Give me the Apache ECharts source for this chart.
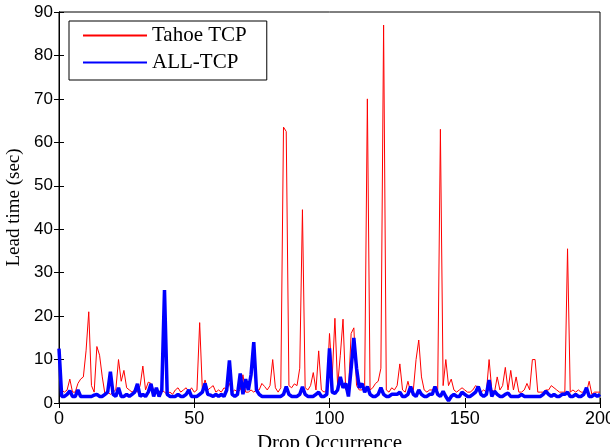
<!DOCTYPE html>
<html>
<head>
<meta charset="utf-8">
<script src="https://cdn.jsdelivr.net/npm/echarts@6/dist/echarts.min.js"></script>
<style>
html,body{margin:0;padding:0;background:#fff;}
#chart{width:610px;height:447px;}
</style>
</head>
<body>
<div id="chart"></div>
<script>
// Tick values
const xTicks = [0, 50, 100, 150, 200];
const yTicks = [0, 10, 20, 30, 40, 50, 60, 70, 80, 90];

// Series names
const seriesNames = ["Tahoe TCP", "ALL-TCP"];

// Lead time (sec) per drop occurrence, index 0..200
const tahoeTCP = [
12.5,3,2.5,3,5.5,2.5,2.5,4.5,5.5,6,
12,21,4,2.5,13,11,6,2,2.5,2,
2.5,3,10,5,7.5,3.5,3,2.5,3,2.5,
4,8.5,3,4.8,4.5,3,2.5,2.5,3,2.5,
2,2.5,2,3,3.5,2.5,3,3.5,2.5,3.5,
2.5,3,18.5,3,5.3,3,3.5,4,2.5,3,
2.5,3.5,3,4.5,2.5,3,2.5,3,6.5,2.5,
2.5,3,2.5,3,3,4.5,3.8,3,4,10,
3.5,2.5,3.5,63.5,62.5,4,3.5,4.4,4,8,
44.5,3.5,3,4,7,3,12,3,2.5,3,
16,6,19.5,4,11,19.3,3,2.5,16,17.3,
4,3,3,4,70,3,3.5,4.5,5,8,
87,3,2.5,3.5,3,4,9,3,2.5,5,
2.5,3,10,14.5,6,3,2.5,3,3,3,
3,63,4,10,4,5.5,3,2.5,3,3.5,
3,2.5,2.5,3,4,3.5,2.5,3,2.5,10,
3,2.5,6,3,4,8.2,3,7.5,3,6,
2.5,2.5,3,4.5,3,10,10,2.5,2.5,2.5,
3,3,4,3.5,3,2.5,2.5,2.5,35.5,2.5,
3,2.5,3,2.5,2.5,2.5,5,2,2.5,2.5,
2.5
];

const allTCP = [
12.5,1.5,1.5,2,2.8,1.5,1.5,3,1.5,1.5,
1.5,1.5,1.5,1.8,2,1.5,1.5,2,2.5,7.2,
2,1.5,3.5,1.5,1.5,2,1.5,2,2.5,4.4,
1.5,2,1.5,2.5,4.4,1.5,3.5,1.5,3,26,
2,1.5,1.5,1.5,2,1.5,1.5,2,3,1.5,
1.5,1.5,2,2.5,4.5,2,1.8,1.5,2,1.5,
2,1.5,3,9.8,2,1.5,2,6.8,2,5.5,
3,6.5,14,3,2,1.5,1.5,1.5,1.5,1.5,
1.5,1.5,1.5,2,3.8,2,1.5,1.5,1.5,2,
3.7,2,1.5,1.5,1.5,2,2.5,1.5,1.5,2,
12.6,2.5,2.2,3,6,3.5,4.5,1.5,8,15,
8,3.5,4.5,2.5,3.8,2,1.5,1.5,2,3.5,
2,1.5,1.5,2,2,2,2.5,1.5,1.5,2,
3.8,2,1.5,3,2,1.5,1.5,2,2,3.8,
2,1.5,2.7,1.5,0.5,1.5,2,1.5,1.5,2.5,
2,1.5,1.5,2,2.5,3.8,2,1.5,2,5.3,
1.5,2.7,2,1.5,1.5,2,2.3,1.5,1.5,1.5,
1.5,2,1.5,1.5,1.5,1.5,1.5,1.5,1.5,2,
2.7,2,1.5,2,1.5,1.5,2,2,2.5,1.5,
1.5,2,1.5,1.5,2,3.5,1.5,1.5,2,1.5,
2
];

const toPairs = arr => arr.map((v, i) => [i, v]);

const chart = echarts.init(document.getElementById('chart'), null, {renderer: 'canvas'});

const xMin = xTicks[0], xMax = xTicks[xTicks.length - 1], xInt = xTicks[1] - xTicks[0];
const yMin = yTicks[0], yMax = yTicks[yTicks.length - 1], yInt = yTicks[1] - yTicks[0];

const tickStyle = {inside: true, length: 5, lineStyle: {color: '#000', width: 1}};
const lineStyleAxis = {show: true, lineStyle: {color: '#000', width: 1}};

chart.setOption({
  animation: false,
  backgroundColor: '#fff',
  grid: {left: 59, right: 10, top: 12, bottom: 44, containLabel: false, outerBoundsMode: 'none',
         show: true, borderColor: '#000', borderWidth: 1, backgroundColor: 'transparent'},
  legend: {
    orient: 'vertical',
    left: 69, top: 21,
    data: seriesNames,
    borderColor: '#000', borderWidth: 1,
    backgroundColor: '#fff',
    padding: [4, 20, 7, 13],
    itemWidth: 64, itemHeight: 14, itemGap: 6,
    itemStyle: {opacity: 0, borderWidth: 0},
    textStyle: {fontFamily: 'Liberation Serif', fontSize: 21, color: '#000', lineHeight: 20}
  },
  xAxis: [{
    type: 'value', min: xMin, max: xMax, interval: xInt,
    axisLine: lineStyleAxis, axisTick: tickStyle, splitLine: {show: false},
    axisLabel: {fontFamily: 'Liberation Sans', fontSize: 18, color: '#000', margin: 7},
    name: 'Drop Occurrence', nameLocation: 'middle', nameGap: 22,
    nameTextStyle: {fontFamily: 'Liberation Serif', fontSize: 21, color: '#000'}
  }, {
    type: 'value', position: 'top', min: xMin, max: xMax, interval: xInt,
    axisLine: lineStyleAxis, axisTick: tickStyle, splitLine: {show: false},
    axisLabel: {show: false}
  }],
  yAxis: [{
    type: 'value', min: yMin, max: yMax, interval: yInt,
    axisLine: lineStyleAxis, axisTick: tickStyle, splitLine: {show: false},
    axisLabel: {fontFamily: 'Liberation Sans', fontSize: 17, color: '#000', margin: 6},
    name: 'Lead time (sec)', nameLocation: 'middle', nameGap: 27,
    nameTextStyle: {fontFamily: 'Liberation Serif', fontSize: 19, color: '#000'}
  }, {
    type: 'value', position: 'right', min: yMin, max: yMax, interval: yInt,
    axisLine: lineStyleAxis, axisTick: tickStyle, splitLine: {show: false},
    axisLabel: {show: false}
  }],
  series: [{
    name: seriesNames[0], type: 'line', data: toPairs(tahoeTCP),
    symbol: 'none', color: '#ff0000', lineStyle: {color: '#ff0000', width: 1},
    xAxisIndex: 0, yAxisIndex: 0, z: 2
  }, {
    name: seriesNames[1], type: 'line', data: toPairs(allTCP),
    symbol: 'none', color: '#0000ff', lineStyle: {color: '#0000ff', width: 3.5},
    xAxisIndex: 0, yAxisIndex: 0, z: 3
  }]
});
</script>
</body>
</html>
